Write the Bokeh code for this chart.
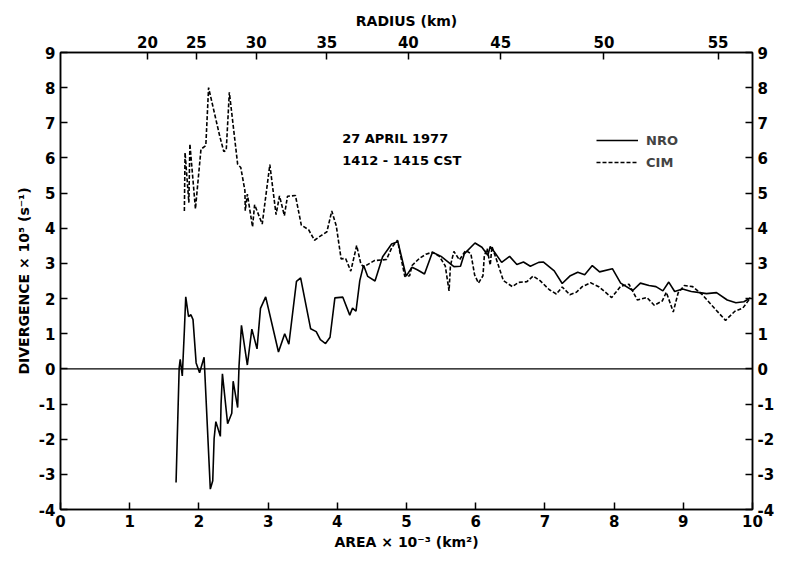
from bokeh.plotting import figure
from bokeh.models import LinearAxis, FixedTicker, Label, Legend, LegendItem, Span
from bokeh.embed import file_html
from bokeh.resources import INLINE
import math

# ---- data ----
area_ticks = list(range(0, 11))
div_ticks = list(range(-4, 10))
div_tick_labels = ["-4", "-3", "-2", "-1", "0", "1", "2", "3", "4", "5", "6", "7", "8", "9"]
radius_km = [20, 25, 30, 35, 40, 45, 50, 55]

nro_area = [1.67, 1.715, 1.73, 1.76, 1.79, 1.81, 1.85, 1.885, 1.915, 1.96, 2.01, 2.075,
            2.165, 2.20, 2.22, 2.245, 2.31, 2.32, 2.34, 2.415, 2.475, 2.495, 2.56, 2.58,
            2.615, 2.70, 2.765, 2.84, 2.89, 2.965, 3.15, 3.24, 3.30, 3.41, 3.47, 3.615,
            3.695, 3.755, 3.83, 3.895, 3.965, 4.08, 4.18, 4.22, 4.27, 4.325, 4.38, 4.44,
            4.545, 4.655, 4.785, 4.875, 4.995, 5.08, 5.155, 5.26, 5.375, 5.50, 5.685, 5.78,
            5.835, 5.99, 6.09, 6.175, 6.21, 6.265, 6.375, 6.49, 6.595, 6.69, 6.79, 6.91,
            6.98, 7.135, 7.25, 7.36, 7.475, 7.575, 7.685, 7.79, 7.975, 8.095, 8.27, 8.38,
            8.505, 8.605, 8.705, 8.79, 8.875, 8.99, 9.115, 9.24, 9.335, 9.48, 9.635, 9.76,
            9.875, 9.97]
nro_div = [-3.23, 0.03, 0.27, -0.20, 1.09, 2.05, 1.49, 1.54, 1.40, 0.17, -0.11, 0.33,
           -3.42, -3.18, -1.98, -1.50, -1.92, -1.01, -0.14, -1.56, -1.26, -0.35, -1.10, 0.09,
           1.24, 0.11, 1.13, 0.57, 1.72, 2.05, 0.48, 1.00, 0.70, 2.49, 2.59, 1.14,
           1.06, 0.83, 0.72, 0.90, 2.02, 2.04, 1.53, 1.73, 1.64, 2.51, 2.95, 2.63,
           2.50, 3.19, 3.55, 3.62, 2.64, 2.89, 2.82, 2.70, 3.32, 3.20, 2.91, 2.92,
           3.27, 3.58, 3.46, 3.23, 3.48, 3.34, 3.03, 3.20, 2.97, 3.04, 2.92, 3.03,
           3.04, 2.79, 2.43, 2.64, 2.75, 2.68, 2.94, 2.76, 2.85, 2.44, 2.23, 2.44,
           2.37, 2.34, 2.22, 2.47, 2.20, 2.27, 2.20, 2.17, 2.14, 2.17, 1.96, 1.88,
           1.91, 2.02]

cim_area = [1.79, 1.80, 1.855, 1.87, 1.95, 2.03, 2.10, 2.14, 2.30, 2.36, 2.395, 2.44,
            2.56, 2.605, 2.665, 2.67, 2.70, 2.775, 2.805, 2.915, 3.025, 3.115, 3.165, 3.235,
            3.28, 3.395, 3.48, 3.585, 3.67, 3.765, 3.85, 3.92, 3.985, 4.055, 4.12, 4.195,
            4.28, 4.34, 4.38, 4.535, 4.71, 4.79, 4.87, 4.975, 5.045, 5.08, 5.19, 5.28,
            5.375, 5.475, 5.56, 5.615, 5.635, 5.685, 5.765, 5.855, 5.93, 5.985, 6.04, 6.105,
            6.125, 6.165, 6.21, 6.235, 6.30, 6.40, 6.53, 6.62, 6.74, 6.83, 6.93, 7.065,
            7.165, 7.25, 7.36, 7.455, 7.54, 7.66, 7.785, 7.965, 8.095, 8.215, 8.335, 8.475,
            8.58, 8.695, 8.755, 8.855, 8.925, 9.015, 9.135, 9.265, 9.425, 9.61, 9.745, 9.86,
            9.97]
cim_div = [4.49, 6.15, 4.73, 6.40, 4.55, 6.25, 6.35, 8.00, 6.63, 6.18, 6.22, 7.87,
           5.82, 5.73, 5.07, 4.50, 4.97, 4.04, 4.67, 4.12, 5.81, 4.39, 4.92, 4.36,
           4.91, 4.93, 4.09, 3.96, 3.66, 3.79, 3.90, 4.49, 4.07, 3.13, 3.14, 2.78,
           3.51, 2.99, 2.90, 3.08, 3.11, 3.46, 3.66, 2.63, 2.65, 2.94, 3.15, 3.26,
           3.32, 3.20, 2.93, 2.22, 2.94, 3.34, 3.10, 3.37, 3.28, 2.67, 2.44, 2.65,
           3.22, 3.42, 2.95, 3.48, 3.11, 2.51, 2.34, 2.46, 2.48, 2.64, 2.51, 2.25,
           2.13, 2.33, 2.11, 2.18, 2.34, 2.45, 2.33, 2.03, 2.35, 2.41, 1.96, 2.03,
           1.81, 1.93, 2.18, 1.62, 2.16, 2.37, 2.34, 2.13, 1.78, 1.38, 1.64, 1.73,
           2.02]

FONT = "DejaVu Sans"

p = figure(width=777, height=559, x_range=(0, 10), y_range=(-4, 9),
           output_backend="svg", toolbar_location=None,
           min_border_left=60, min_border_right=24, min_border_top=52, min_border_bottom=50)
p.xgrid.visible = False
p.ygrid.visible = False
p.outline_line_color = "black"
p.outline_line_width = 1.5
p.background_fill_color = "white"
p.border_fill_color = "white"


def style(ax):
    ax.major_tick_in = 7
    ax.major_tick_out = 0
    ax.minor_tick_in = 0
    ax.minor_tick_out = 0
    ax.axis_line_width = 1.5
    ax.axis_line_color = "black"
    ax.major_tick_line_width = 1.5
    ax.major_tick_line_color = "black"
    ax.major_label_text_font = FONT
    ax.major_label_text_font_size = "15px"
    ax.major_label_text_font_style = "bold"
    ax.major_label_text_color = "black"
    ax.major_label_standoff = 5
    ax.axis_label_text_font = FONT
    ax.axis_label_text_font_size = "14px"
    ax.axis_label_text_font_style = "bold"
    ax.axis_label_text_color = "black"
    ax.axis_label_standoff = 4


div_overrides = {t: lab for t, lab in zip(div_ticks, div_tick_labels)}

bottom = p.xaxis[0]
bottom.ticker = FixedTicker(ticks=area_ticks)
bottom.axis_label = "AREA × 10⁻³ (km²)"
style(bottom)

left = p.yaxis[0]
left.ticker = FixedTicker(ticks=div_ticks)
left.major_label_overrides = div_overrides
left.axis_label = "DIVERGENCE × 10⁵ (s⁻¹)"
style(left)

radius_pos = [round(math.pi * r * r / 1000.0, 4) for r in radius_km]
top = LinearAxis(ticker=FixedTicker(ticks=radius_pos),
                 major_label_overrides={pos: str(r) for pos, r in zip(radius_pos, radius_km)},
                 axis_label="RADIUS (km)")
style(top)
p.add_layout(top, "above")

right = LinearAxis(ticker=FixedTicker(ticks=div_ticks), major_label_overrides=div_overrides)
style(right)
p.add_layout(right, "right")

p.add_layout(Span(location=0, dimension="width", line_color="black", line_width=1.3))

r_nro = p.line(nro_area, nro_div, line_color="black", line_width=1.6)
r_cim = p.line(cim_area, cim_div, line_color="black", line_width=1.6, line_dash="4 2")

legend = Legend(items=[LegendItem(label="NRO", renderers=[r_nro]),
                       LegendItem(label="CIM", renderers=[r_cim])],
                location=(536, 338), glyph_width=42, glyph_height=18, label_standoff=8,
                spacing=4, padding=0, margin=0, border_line_color=None,
                background_fill_alpha=0, label_text_font=FONT,
                label_text_font_size="13px", label_text_font_style="bold")
p.add_layout(legend, "center")

for yy, txt in [(6.55, "27 APRIL 1977"), (5.92, "1412 - 1415 CST")]:
    p.add_layout(Label(x=4.07, y=yy, text=txt, text_baseline="middle", text_font=FONT,
                       text_font_size="13px", text_font_style="bold", text_color="black"))

open("out.html", "w").write(file_html(p, INLINE))
